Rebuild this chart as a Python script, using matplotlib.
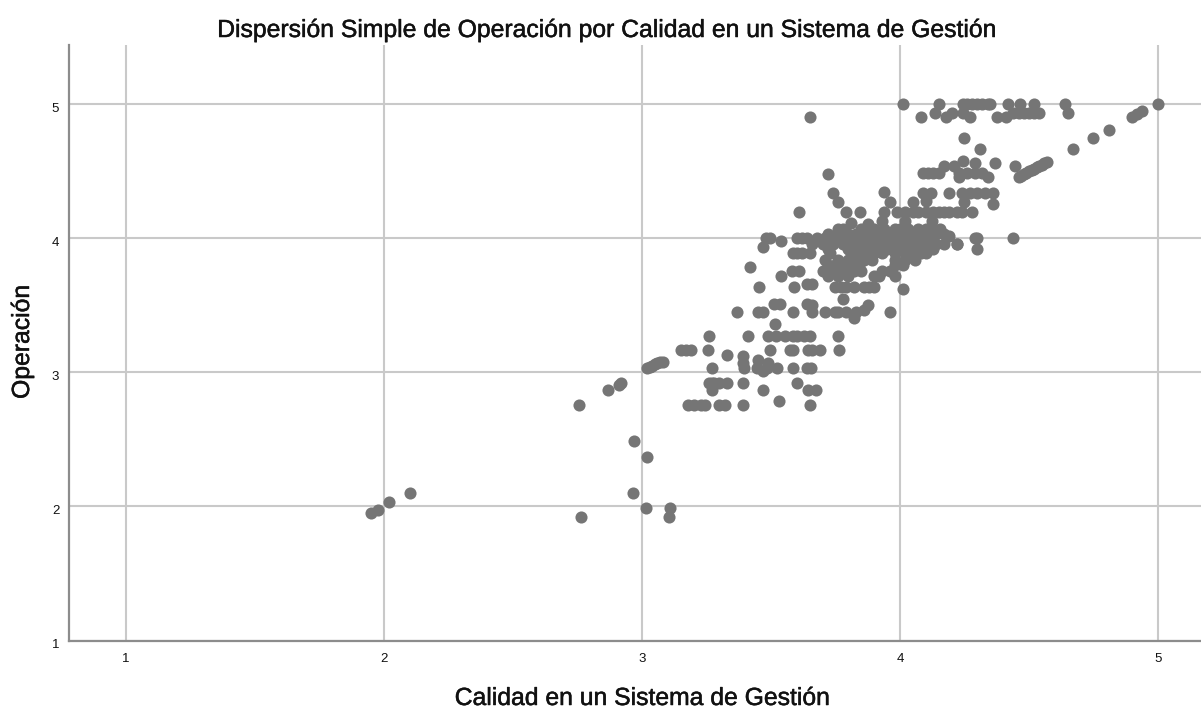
"""Dispersion chart: Operacion vs Calidad."""

import matplotlib
matplotlib.use("Agg")
import matplotlib.pyplot as plt
import matplotlib.patheffects as pe
from matplotlib.transforms import ScaledTranslation

plt.rcParams["font.family"] = ["Liberation Sans", "DejaVu Sans"]

TITLE = "Dispersión Simple de Operación por Calidad en un Sistema de Gestión"
X_LABEL = "Calidad en un Sistema de Gestión"
Y_LABEL = "Operación"
TICKS = [1, 2, 3, 4, 5]

# points sharing an Operacion level
levels = [5.0, 4.94, 4.91, 4.49, 4.34, 4.2, 4.07, 4.03, 4.0, 3.96, 3.92, 3.89, 3.84,
          3.8, 3.76, 3.72, 3.64, 3.45, 3.27, 3.17, 3.03, 2.92, 2.76]
level_x = [
    [4.01, 4.15, 4.245, 4.26, 4.28, 4.3, 4.32, 4.34, 4.35, 4.42, 4.465, 4.52, 4.64, 5.0],
    [4.135, 4.2, 4.245, 4.44, 4.46, 4.48, 4.5, 4.52, 4.54, 4.65],
    [3.65, 4.08, 4.18, 4.27, 4.375, 4.41, 4.9],
    [4.09, 4.11, 4.13, 4.15, 4.23, 4.26, 4.29, 4.32],
    [4.09, 4.12, 4.19, 4.24, 4.27, 4.3, 4.33, 4.36],
    [3.61, 3.79, 3.845, 3.94, 3.99, 4.02, 4.05, 4.07, 4.1, 4.13, 4.15, 4.17, 4.19, 4.22, 4.24, 4.28],
    [3.76, 3.78, 3.85, 3.9, 3.94, 3.98, 4.0, 4.03, 4.07, 4.1, 4.13, 4.155],
    [3.72, 3.76, 3.8, 3.83, 3.87, 3.9, 3.93, 3.96, 3.99, 4.02, 4.05, 4.08, 4.11, 4.14, 4.17],
    [3.48, 3.495, 3.6, 3.62, 3.64, 3.68, 3.71, 3.74, 3.77, 3.8, 3.82, 3.85, 3.88, 3.91, 3.94,
     3.97, 4.0, 4.03, 4.06, 4.09, 4.12, 4.29, 4.44],
    [3.66, 3.7, 3.74, 3.78, 3.81, 3.84, 3.87, 3.9, 3.93, 3.96, 3.99, 4.02, 4.05, 4.08, 4.11,
     4.14, 4.17, 4.22],
    [3.72, 3.8, 3.83, 3.86, 3.89, 3.92, 3.95, 3.98, 4.01, 4.04, 4.07, 4.1, 4.13, 4.3],
    [3.585, 3.6, 3.62, 3.65, 3.73, 3.81, 3.84, 3.87, 3.9, 3.93, 3.98, 4.02, 4.05, 4.08, 4.1],
    [3.71, 3.76, 3.8, 3.83, 3.86, 3.89, 3.98, 4.02, 4.06],
    [3.72, 3.75, 3.78, 3.81, 3.84, 3.98, 4.01],
    [3.58, 3.61, 3.7, 3.73, 3.76, 3.79, 3.82, 3.85, 3.93, 3.96],
    [3.54, 3.72, 3.76, 3.8, 3.9, 3.92, 3.98],
    [3.455, 3.59, 3.75, 3.77, 3.79, 3.82, 3.86, 3.88, 3.9],
    [3.37, 3.45, 3.47, 3.585, 3.66, 3.71, 3.75, 3.76, 3.79, 3.83, 3.96],
    [3.26, 3.41, 3.49, 3.52, 3.555, 3.585, 3.6, 3.63, 3.65, 3.76],
    [3.17, 3.19, 3.15, 3.255, 3.495, 3.575, 3.585, 3.645, 3.66, 3.69, 3.765],
    [3.27, 3.395, 3.445, 3.485, 3.525, 3.585, 3.64, 3.655],
    [3.26, 3.27, 3.28, 3.3, 3.33, 3.39, 3.6],
    [2.755, 3.18, 3.2, 3.23, 3.245, 3.3, 3.32, 3.39, 3.65],
]

# points off those levels
other_x = [2.87, 2.92, 2.91, 3.02, 3.03, 3.04, 3.05, 3.06, 3.07, 3.08, 3.33, 3.39, 3.39, 3.45,
           3.47, 3.49, 3.515, 3.51, 3.535, 3.64, 3.27, 3.47, 3.53, 3.645, 3.675, 3.42, 3.47,
           3.54, 3.64, 3.66, 3.78, 3.875, 3.66, 4.01, 3.81, 3.875, 3.93, 4.02, 4.125, 4.19,
           4.22, 4.3, 3.72, 3.74, 3.76, 3.94, 3.96, 4.05, 4.10, 4.25, 4.36, 4.17, 4.21, 4.245,
           4.29, 4.23, 4.34, 4.37, 4.31, 4.25, 4.445, 4.46, 4.47, 4.48, 4.49, 4.5, 4.51, 4.52,
           4.53, 4.54, 4.55, 4.56, 4.57, 4.67, 4.75, 4.81, 4.92, 4.94, 3.82, 3.86,
           2.97, 3.02, 2.965, 3.015, 3.11, 3.105, 2.765, 2.1, 2.02, 1.975, 1.95]
other_y = [2.87, 2.92, 2.91, 3.03, 3.04, 3.05, 3.06, 3.07, 3.08, 3.08, 3.13, 3.12, 3.07, 3.09,
           3.01, 3.07, 3.36, 3.51, 3.51, 3.51, 2.87, 2.87, 2.79, 2.87, 2.87, 3.79, 3.94,
           3.985, 3.66, 3.66, 3.55, 3.5, 3.5, 3.62, 4.115, 4.11, 4.13, 4.13, 4.13, 4.02,
           3.96, 4.0, 4.48, 4.34, 4.27, 4.35, 4.27, 4.27, 4.28, 4.27, 4.26, 4.54, 4.54, 4.58,
           4.56, 4.46, 4.46, 4.56, 4.67, 4.75, 4.54, 4.46, 4.47, 4.48, 4.49, 4.5, 4.51, 4.52,
           4.53, 4.54, 4.55, 4.56, 4.57, 4.67, 4.75, 4.81, 4.93, 4.95, 3.41, 3.47,
           2.49, 2.37, 2.1, 1.99, 1.99, 1.92, 1.92, 2.1, 2.03, 1.975, 1.95]


def main():
    xs = [x for row in level_x for x in row] + other_x
    ys = [lv for lv, row in zip(levels, level_x) for _ in row] + other_y

    fig = plt.figure(figsize=(12.01, 7.11), dpi=100, facecolor="white")
    ax = fig.add_axes([69 / 1201, 70.5 / 711, 1132 / 1201, 595.5 / 711])

    ax.scatter(xs, ys, s=76, color="#757575", linewidths=0, zorder=3, clip_on=False)

    ax.set_xlim(0.779, 5.167)
    ax.set_ylim(1, 5.444)
    ax.set_xticks(TICKS)
    ax.set_yticks(TICKS)
    ax.grid(True, color="#c9c9c9", linewidth=1.5, zorder=0)
    ax.set_axisbelow(True)
    ax.tick_params(length=0, labelsize=9.5, colors="#111111", pad=7)
    ax.tick_params(axis="x", pad=9)
    # y tick labels sit a little under their grid lines
    down = ScaledTranslation(0, -3 / 100, fig.dpi_scale_trans)
    for label in ax.get_yticklabels():
        label.set_transform(label.get_transform() + down)

    for side in ("top", "right"):
        ax.spines[side].set_visible(False)
    for side in ("left", "bottom"):
        ax.spines[side].set_color("#8c8c8c")
        ax.spines[side].set_linewidth(1.6)

    bolder = [pe.withStroke(linewidth=0.35, foreground="#111111")]
    style = dict(fontsize=17.8, ha="center", va="center", color="#111111", path_effects=bolder)
    fig.text(606 / 1201, 1 - 30 / 711, TITLE, **style)
    fig.text(642 / 1201, 1 - 698 / 711, X_LABEL, **style)
    fig.text(22 / 1201, 1 - 342 / 711, Y_LABEL, rotation=90, **style)

    fig.savefig("out.png", dpi=100, facecolor="white")
    plt.close(fig)


if __name__ == "__main__":
    main()
